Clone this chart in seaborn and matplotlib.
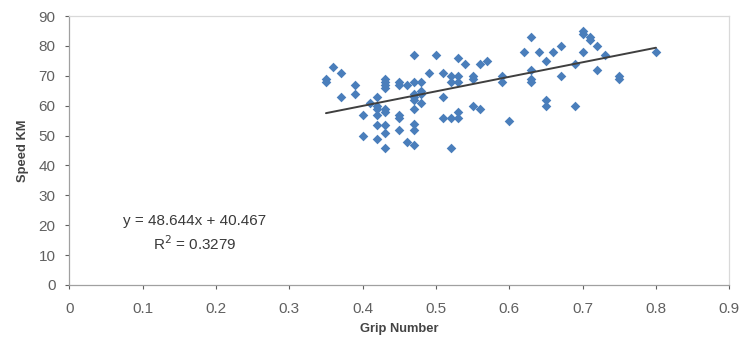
import numpy as np
import pandas as pd
import matplotlib
matplotlib.use("Agg")
import matplotlib.pyplot as plt
import seaborn as sns

# ---- data ----
grip = [0.35, 0.35, 0.36, 0.37, 0.37, 0.39, 0.39, 0.40, 0.40, 0.41,
        0.42, 0.42, 0.42, 0.42, 0.42, 0.42,
        0.43, 0.43, 0.43, 0.43, 0.43, 0.43, 0.43, 0.43, 0.43,
        0.45, 0.45, 0.45, 0.45, 0.45, 0.46, 0.46,
        0.47, 0.47, 0.47, 0.47, 0.47, 0.47, 0.47, 0.47, 0.47,
        0.48, 0.48, 0.48, 0.48, 0.49, 0.50, 0.51, 0.51, 0.51,
        0.52, 0.52, 0.52, 0.52, 0.53, 0.53, 0.53, 0.53, 0.53,
        0.54, 0.55, 0.55, 0.55, 0.56, 0.56, 0.57, 0.59, 0.59, 0.60,
        0.62, 0.63, 0.63, 0.63, 0.63, 0.64, 0.65, 0.65, 0.65, 0.66,
        0.67, 0.67, 0.69, 0.69, 0.70, 0.70, 0.70, 0.71, 0.71,
        0.72, 0.72, 0.73, 0.75, 0.75, 0.80]
speed = [69, 68, 73, 71, 63, 67, 64, 57, 50, 61,
         63, 60, 59, 57, 53.5, 49,
         69, 68, 67, 66, 59, 58, 53.5, 51, 46,
         68, 67, 57, 56, 52, 67, 48,
         77, 68, 64, 63, 62, 59, 54, 52, 47,
         68, 65, 64, 61, 71, 77, 71, 63, 56,
         70, 68, 56, 46, 76, 70, 68, 58, 56,
         74, 70, 69, 60, 74, 59, 75, 70, 68, 55,
         78, 83, 72, 69, 68, 78, 75, 62, 60, 78,
         80, 70, 74, 60, 85, 84, 78, 83, 82,
         80, 72, 77, 70, 69, 78]
slope = 48.644
intercept = 40.467
r_squared = 0.3279
x_ticks = [0, 0.1, 0.2, 0.3, 0.4, 0.5, 0.6, 0.7, 0.8, 0.9]
y_ticks = [0, 10, 20, 30, 40, 50, 60, 70, 80, 90]

df = pd.DataFrame({"Grip Number": grip, "Speed KM": speed})

sns.set_theme(style="white")
plt.rcParams["font.family"] = ["Liberation Sans", "DejaVu Sans"]

fig = plt.figure(figsize=(7.42, 3.42), dpi=100)
ax = fig.add_axes([69.3 / 742, 1 - 285 / 342, 660 / 742, 269 / 342])

sns.scatterplot(data=df, x="Grip Number", y="Speed KM", marker="D",
                s=24, color="#4A7EBB", linewidth=0, ax=ax, zorder=3)

xs = np.array([min(grip), max(grip)])
ax.plot(xs, slope * xs + intercept, color="#3F3F3F", lw=1.4, zorder=4)

ax.text(0.171, 21.5, f"y = {slope}x + {intercept}", ha="center", va="center",
        fontsize=11, color="#3A3A3A")
ax.text(0.171, 13.9, f"R$^2$ = {r_squared}", ha="center", va="center",
        fontsize=11, color="#3A3A3A")

ax.set_xlim(0, 0.9)
ax.set_ylim(0, 90)
ax.set_xticks(x_ticks)
ax.set_xticklabels([f"{t:g}" for t in x_ticks])
ax.set_yticks(y_ticks)

ax.set_xlabel("Grip Number", fontsize=9.3, fontweight="bold", color="#444444", labelpad=5)
ax.set_ylabel("Speed KM", fontsize=9.3, fontweight="bold", color="#444444", labelpad=7)
ax.tick_params(axis="both", labelsize=11, colors="#606060", direction="out",
               length=3, width=0.8, left=True, bottom=True)
ax.tick_params(axis="x", pad=9)
ax.tick_params(axis="y", pad=7)

for side in ["left", "bottom"]:
    ax.spines[side].set_color("#A0A0A0")
    ax.spines[side].set_linewidth(0.9)
for side in ["top", "right"]:
    ax.spines[side].set_visible(True)
    ax.spines[side].set_color("#D9D9D9")
    ax.spines[side].set_linewidth(0.9)

fig.savefig("out.png", dpi=100, facecolor="white")
